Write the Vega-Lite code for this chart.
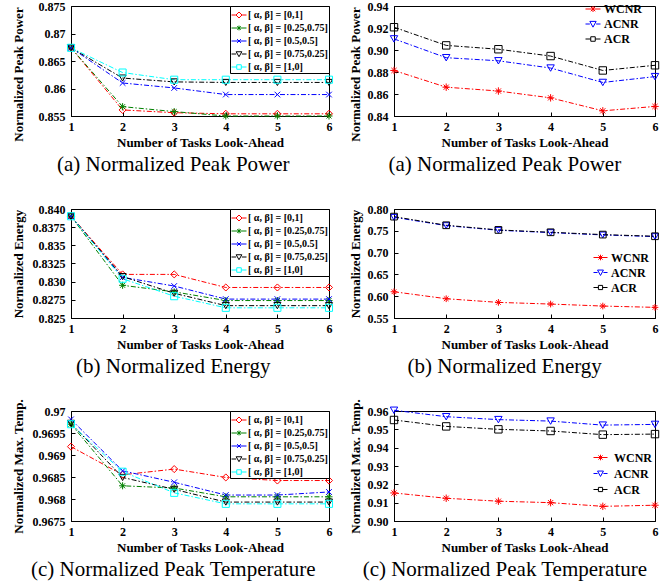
{
  "$schema": "https://vega.github.io/schema/vega-lite/v6.json",
  "padding": {"left": 11, "top": -1, "right": 0, "bottom": 0},
  "background": "white",
  "columns": 2,
  "bounds": "flush",
  "spacing": {"row": 93, "column": 65},
  "resolve": {"scale": {"color": "independent", "shape": "independent"}, "legend": {"color": "independent", "shape": "independent"}},
  "datasets": {
    "pa_l": [
      {"k": 1, "s": "[ α, β] = [0,1]", "v": 0.8674}, {"k": 2, "s": "[ α, β] = [0,1]", "v": 0.8561}, {"k": 3, "s": "[ α, β] = [0,1]", "v": 0.8556}, {"k": 4, "s": "[ α, β] = [0,1]", "v": 0.8554}, {"k": 5, "s": "[ α, β] = [0,1]", "v": 0.8554}, {"k": 6, "s": "[ α, β] = [0,1]", "v": 0.8554},
      {"k": 1, "s": "[ α, β] = [0.25,0.75]", "v": 0.8674}, {"k": 2, "s": "[ α, β] = [0.25,0.75]", "v": 0.8567}, {"k": 3, "s": "[ α, β] = [0.25,0.75]", "v": 0.8558}, {"k": 4, "s": "[ α, β] = [0.25,0.75]", "v": 0.8550}, {"k": 5, "s": "[ α, β] = [0.25,0.75]", "v": 0.8550}, {"k": 6, "s": "[ α, β] = [0.25,0.75]", "v": 0.8550},
      {"k": 1, "s": "[ α, β] = [0.5,0.5]", "v": 0.8674}, {"k": 2, "s": "[ α, β] = [0.5,0.5]", "v": 0.8610}, {"k": 3, "s": "[ α, β] = [0.5,0.5]", "v": 0.8601}, {"k": 4, "s": "[ α, β] = [0.5,0.5]", "v": 0.8589}, {"k": 5, "s": "[ α, β] = [0.5,0.5]", "v": 0.8589}, {"k": 6, "s": "[ α, β] = [0.5,0.5]", "v": 0.8589},
      {"k": 1, "s": "[ α, β] = [0.75,0.25]", "v": 0.8674}, {"k": 2, "s": "[ α, β] = [0.75,0.25]", "v": 0.8619}, {"k": 3, "s": "[ α, β] = [0.75,0.25]", "v": 0.8612}, {"k": 4, "s": "[ α, β] = [0.75,0.25]", "v": 0.8611}, {"k": 5, "s": "[ α, β] = [0.75,0.25]", "v": 0.8611}, {"k": 6, "s": "[ α, β] = [0.75,0.25]", "v": 0.8611},
      {"k": 1, "s": "[ α, β] = [1,0]", "v": 0.8674}, {"k": 2, "s": "[ α, β] = [1,0]", "v": 0.8629}, {"k": 3, "s": "[ α, β] = [1,0]", "v": 0.8616}, {"k": 4, "s": "[ α, β] = [1,0]", "v": 0.8616}, {"k": 5, "s": "[ α, β] = [1,0]", "v": 0.8616}, {"k": 6, "s": "[ α, β] = [1,0]", "v": 0.8616}
    ],
    "pa_r": [
      {"k": 1, "s": "WCNR", "v": 0.8814}, {"k": 2, "s": "WCNR", "v": 0.8662}, {"k": 3, "s": "WCNR", "v": 0.8627}, {"k": 4, "s": "WCNR", "v": 0.8565}, {"k": 5, "s": "WCNR", "v": 0.8447}, {"k": 6, "s": "WCNR", "v": 0.8487},
      {"k": 1, "s": "ACNR", "v": 0.9101}, {"k": 2, "s": "ACNR", "v": 0.8930}, {"k": 3, "s": "ACNR", "v": 0.8902}, {"k": 4, "s": "ACNR", "v": 0.8836}, {"k": 5, "s": "ACNR", "v": 0.8705}, {"k": 6, "s": "ACNR", "v": 0.8758},
      {"k": 1, "s": "ACR", "v": 0.9207}, {"k": 2, "s": "ACR", "v": 0.9042}, {"k": 3, "s": "ACR", "v": 0.9007}, {"k": 4, "s": "ACR", "v": 0.8945}, {"k": 5, "s": "ACR", "v": 0.8814}, {"k": 6, "s": "ACR", "v": 0.8861}
    ],
    "en_l": [
      {"k": 1, "s": "[ α, β] = [0,1]", "v": 0.8390}, {"k": 2, "s": "[ α, β] = [0,1]", "v": 0.8310}, {"k": 3, "s": "[ α, β] = [0,1]", "v": 0.8310}, {"k": 4, "s": "[ α, β] = [0,1]", "v": 0.8292}, {"k": 5, "s": "[ α, β] = [0,1]", "v": 0.8292}, {"k": 6, "s": "[ α, β] = [0,1]", "v": 0.8292},
      {"k": 1, "s": "[ α, β] = [0.25,0.75]", "v": 0.8390}, {"k": 2, "s": "[ α, β] = [0.25,0.75]", "v": 0.8295}, {"k": 3, "s": "[ α, β] = [0.25,0.75]", "v": 0.8286}, {"k": 4, "s": "[ α, β] = [0.25,0.75]", "v": 0.8274}, {"k": 5, "s": "[ α, β] = [0.25,0.75]", "v": 0.8274}, {"k": 6, "s": "[ α, β] = [0.25,0.75]", "v": 0.8274},
      {"k": 1, "s": "[ α, β] = [0.5,0.5]", "v": 0.8390}, {"k": 2, "s": "[ α, β] = [0.5,0.5]", "v": 0.8306}, {"k": 3, "s": "[ α, β] = [0.5,0.5]", "v": 0.8294}, {"k": 4, "s": "[ α, β] = [0.5,0.5]", "v": 0.8276}, {"k": 5, "s": "[ α, β] = [0.5,0.5]", "v": 0.8276}, {"k": 6, "s": "[ α, β] = [0.5,0.5]", "v": 0.8276},
      {"k": 1, "s": "[ α, β] = [0.75,0.25]", "v": 0.8390}, {"k": 2, "s": "[ α, β] = [0.75,0.25]", "v": 0.8307}, {"k": 3, "s": "[ α, β] = [0.75,0.25]", "v": 0.8284}, {"k": 4, "s": "[ α, β] = [0.75,0.25]", "v": 0.8267}, {"k": 5, "s": "[ α, β] = [0.75,0.25]", "v": 0.8267}, {"k": 6, "s": "[ α, β] = [0.75,0.25]", "v": 0.8267},
      {"k": 1, "s": "[ α, β] = [1,0]", "v": 0.8390}, {"k": 2, "s": "[ α, β] = [1,0]", "v": 0.8304}, {"k": 3, "s": "[ α, β] = [1,0]", "v": 0.8280}, {"k": 4, "s": "[ α, β] = [1,0]", "v": 0.8264}, {"k": 5, "s": "[ α, β] = [1,0]", "v": 0.8264}, {"k": 6, "s": "[ α, β] = [1,0]", "v": 0.8264}
    ],
    "en_r": [
      {"k": 1, "s": "WCNR", "v": 0.6102}, {"k": 2, "s": "WCNR", "v": 0.5942}, {"k": 3, "s": "WCNR", "v": 0.5858}, {"k": 4, "s": "WCNR", "v": 0.5820}, {"k": 5, "s": "WCNR", "v": 0.5774}, {"k": 6, "s": "WCNR", "v": 0.5744},
      {"k": 1, "s": "ACNR", "v": 0.7810}, {"k": 2, "s": "ACNR", "v": 0.7619}, {"k": 3, "s": "ACNR", "v": 0.7512}, {"k": 4, "s": "ACNR", "v": 0.7459}, {"k": 5, "s": "ACNR", "v": 0.7405}, {"k": 6, "s": "ACNR", "v": 0.7367},
      {"k": 1, "s": "ACR", "v": 0.7825}, {"k": 2, "s": "ACR", "v": 0.7627}, {"k": 3, "s": "ACR", "v": 0.7520}, {"k": 4, "s": "ACR", "v": 0.7466}, {"k": 5, "s": "ACR", "v": 0.7413}, {"k": 6, "s": "ACR", "v": 0.7375}
    ],
    "tp_l": [
      {"k": 1, "s": "[ α, β] = [0,1]", "v": 0.96919}, {"k": 2, "s": "[ α, β] = [0,1]", "v": 0.96855}, {"k": 3, "s": "[ α, β] = [0,1]", "v": 0.96868}, {"k": 4, "s": "[ α, β] = [0,1]", "v": 0.96849}, {"k": 5, "s": "[ α, β] = [0,1]", "v": 0.96842}, {"k": 6, "s": "[ α, β] = [0,1]", "v": 0.96842},
      {"k": 1, "s": "[ α, β] = [0.25,0.75]", "v": 0.96970}, {"k": 2, "s": "[ α, β] = [0.25,0.75]", "v": 0.96830}, {"k": 3, "s": "[ α, β] = [0.25,0.75]", "v": 0.96825}, {"k": 4, "s": "[ α, β] = [0.25,0.75]", "v": 0.96805}, {"k": 5, "s": "[ α, β] = [0.25,0.75]", "v": 0.96805}, {"k": 6, "s": "[ α, β] = [0.25,0.75]", "v": 0.96805},
      {"k": 1, "s": "[ α, β] = [0.5,0.5]", "v": 0.96981}, {"k": 2, "s": "[ α, β] = [0.5,0.5]", "v": 0.96864}, {"k": 3, "s": "[ α, β] = [0.5,0.5]", "v": 0.96838}, {"k": 4, "s": "[ α, β] = [0.5,0.5]", "v": 0.96809}, {"k": 5, "s": "[ α, β] = [0.5,0.5]", "v": 0.96809}, {"k": 6, "s": "[ α, β] = [0.5,0.5]", "v": 0.96816},
      {"k": 1, "s": "[ α, β] = [0.75,0.25]", "v": 0.96972}, {"k": 2, "s": "[ α, β] = [0.75,0.25]", "v": 0.96849}, {"k": 3, "s": "[ α, β] = [0.75,0.25]", "v": 0.96822}, {"k": 4, "s": "[ α, β] = [0.75,0.25]", "v": 0.96793}, {"k": 5, "s": "[ α, β] = [0.75,0.25]", "v": 0.96793}, {"k": 6, "s": "[ α, β] = [0.75,0.25]", "v": 0.96793},
      {"k": 1, "s": "[ α, β] = [1,0]", "v": 0.96970}, {"k": 2, "s": "[ α, β] = [1,0]", "v": 0.96862}, {"k": 3, "s": "[ α, β] = [1,0]", "v": 0.96814}, {"k": 4, "s": "[ α, β] = [1,0]", "v": 0.96789}, {"k": 5, "s": "[ α, β] = [1,0]", "v": 0.96789}, {"k": 6, "s": "[ α, β] = [1,0]", "v": 0.96789}
    ],
    "tp_r": [
      {"k": 1, "s": "WCNR", "v": 0.9153}, {"k": 2, "s": "WCNR", "v": 0.9124}, {"k": 3, "s": "WCNR", "v": 0.9108}, {"k": 4, "s": "WCNR", "v": 0.9100}, {"k": 5, "s": "WCNR", "v": 0.9080}, {"k": 6, "s": "WCNR", "v": 0.9086},
      {"k": 1, "s": "ACNR", "v": 0.9604}, {"k": 2, "s": "ACNR", "v": 0.9569}, {"k": 3, "s": "ACNR", "v": 0.9553}, {"k": 4, "s": "ACNR", "v": 0.9545}, {"k": 5, "s": "ACNR", "v": 0.9523}, {"k": 6, "s": "ACNR", "v": 0.9527},
      {"k": 1, "s": "ACR", "v": 0.9551}, {"k": 2, "s": "ACR", "v": 0.9516}, {"k": 3, "s": "ACR", "v": 0.9500}, {"k": 4, "s": "ACR", "v": 0.9491}, {"k": 5, "s": "ACR", "v": 0.9471}, {"k": 6, "s": "ACR", "v": 0.9474}
    ]
  },
  "concat": [
    {
      "width": 258, "height": 110,
      "title": "(a) Normalized Peak Power",
      "data": {"name": "pa_l"},
      "encoding": {
        "x": {"field": "k", "type": "quantitative", "scale": {"domain": [1, 6], "nice": false}, "axis": {"values": [1, 2, 3, 4, 5, 6], "format": "d", "title": "Number of Tasks Look-Ahead"}},
        "y": {"field": "v", "type": "quantitative", "scale": {"domain": [0.855, 0.875], "nice": false, "zero": false}, "axis": {"values": [0.855, 0.86, 0.865, 0.87, 0.875], "format": ".3~f", "title": "Normalized Peak Power", "titleY": 68}},
        "color": {"field": "s", "type": "nominal", "sort": null, "scale": {"domain": ["[ α, β] = [0,1]", "[ α, β] = [0.25,0.75]", "[ α, β] = [0.5,0.5]", "[ α, β] = [0.75,0.25]", "[ α, β] = [1,0]"], "range": ["#FF0000", "#008000", "#0000FF", "#000000", "#00FFFF"]},
          "legend": {"title": null, "orient": "top-right", "offset": 0, "strokeColor": "black", "fillColor": "white", "padding": 1, "labelFontSize": 10, "labelFontWeight": "bold", "labelFont": "Liberation Serif", "labelColor": "black", "labelOffset": 1, "symbolSize": 225, "symbolStrokeWidth": 1, "rowPadding": -1,
            "encode": {"symbols": {"update": {"fill": {"value": "transparent"}, "strokeDash": {"value": []}, "shape": {"signal": "['M-1,0H-0.42M0.42,0H1M0,-0.4L0.4,0L0,0.4L-0.4,0Z','M-1,0H1M0,-0.32V0.32M-0.23,-0.23L0.23,0.23M-0.23,0.23L0.23,-0.23','M-1,0H1M-0.25,-0.25L0.25,0.25M-0.25,0.25L0.25,-0.25','M-1,0H-0.38M0.38,0H1M-0.38,-0.3H0.38L0,0.36Z','M-1,0H-0.3M0.3,0H1M-0.3,-0.3H0.3V0.3H-0.3Z'][indexof(['[ α, β] = [0,1]','[ α, β] = [0.25,0.75]','[ α, β] = [0.5,0.5]','[ α, β] = [0.75,0.25]','[ α, β] = [1,0]'], datum.value)]"}}}}
          }
        }
      },
      "layer": [
        {"mark": {"type": "line", "strokeDash": [5, 2, 1.5, 2], "strokeWidth": 1}},
        {"mark": {"type": "point", "filled": false, "size": 50, "strokeWidth": 1, "opacity": 1},
         "encoding": {"shape": {"field": "s", "type": "nominal", "legend": null, "scale": {"range": ["diamond", "M-1,0H1M0,-1V1M-0.7,-0.7L0.7,0.7M-0.7,0.7L0.7,-0.7", "M-0.8,-0.8L0.8,0.8M-0.8,0.8L0.8,-0.8", "triangle-down", "square"]}}}}
      ]
    },
    {
      "width": 261, "height": 110,
      "title": "(a) Normalized Peak Power",
      "data": {"name": "pa_r"},
      "encoding": {
        "x": {"field": "k", "type": "quantitative", "scale": {"domain": [1, 6], "nice": false}, "axis": {"values": [1, 2, 3, 4, 5, 6], "format": "d", "title": "Number of Tasks Look-Ahead"}},
        "y": {"field": "v", "type": "quantitative", "scale": {"domain": [0.84, 0.94], "nice": false, "zero": false}, "axis": {"values": [0.84, 0.86, 0.88, 0.9, 0.92, 0.94], "format": ".2f", "title": "Normalized Peak Power", "titleX": -32, "titleY": 68}},
        "color": {"field": "s", "type": "nominal", "sort": null, "scale": {"domain": ["WCNR", "ACNR", "ACR"], "range": ["#FF0000", "#0000FF", "#000000"]},
          "legend": {"title": null, "orient": "none", "legendX": 191, "legendY": -5, "padding": 0, "labelFontSize": 12, "labelFontWeight": "bold", "labelFont": "Liberation Serif", "labelColor": "black", "labelOffset": 3, "symbolSize": 225, "symbolStrokeWidth": 1, "rowPadding": 1,
            "encode": {"symbols": {"update": {"fill": {"value": "transparent"}, "strokeDash": {"value": []}, "shape": {"signal": "['M-1,0H1M0,-0.4V0.4M-0.3,-0.3L0.3,0.3M-0.3,0.3L0.3,-0.3','M-1,0H-0.42M0.42,0H1M-0.42,-0.35H0.42L0,0.42Z','M-1,0H-0.3M0.3,0H1M-0.3,-0.3H0.3V0.3H-0.3Z'][indexof(['WCNR','ACNR','ACR'], datum.value)]"}}}}
          }
        }
      },
      "layer": [
        {"mark": {"type": "line", "strokeDash": [5, 2, 1.5, 2], "strokeWidth": 1}},
        {"mark": {"type": "point", "filled": false, "size": 55, "strokeWidth": 1, "opacity": 1},
         "encoding": {"shape": {"field": "s", "type": "nominal", "legend": null, "scale": {"range": ["triangle-down", "square", "M-1,0H1M0,-1V1M-0.7,-0.7L0.7,0.7M-0.7,0.7L0.7,-0.7"]}}}}
      ]
    },
    {
      "width": 258, "height": 109,
      "title": "(b) Normalized Energy",
      "data": {"name": "en_l"},
      "encoding": {
        "x": {"field": "k", "type": "quantitative", "scale": {"domain": [1, 6], "nice": false}, "axis": {"values": [1, 2, 3, 4, 5, 6], "format": "d", "title": "Number of Tasks Look-Ahead"}},
        "y": {"field": "v", "type": "quantitative", "scale": {"domain": [0.825, 0.84], "nice": false, "zero": false}, "axis": {"values": [0.825, 0.8275, 0.83, 0.8325, 0.835, 0.8375, 0.84], "labelExpr": "substring(format(datum.value, '.4f'), 5, 6) == '0' ? format(datum.value, '.3f') : format(datum.value, '.4f')", "title": "Normalized Energy"}},
        "color": {"field": "s", "type": "nominal", "sort": null, "scale": {"domain": ["[ α, β] = [0,1]", "[ α, β] = [0.25,0.75]", "[ α, β] = [0.5,0.5]", "[ α, β] = [0.75,0.25]", "[ α, β] = [1,0]"], "range": ["#FF0000", "#008000", "#0000FF", "#000000", "#00FFFF"]},
          "legend": {"title": null, "orient": "top-right", "offset": 0, "strokeColor": "black", "fillColor": "white", "padding": 1, "labelFontSize": 10, "labelFontWeight": "bold", "labelFont": "Liberation Serif", "labelColor": "black", "labelOffset": 1, "symbolSize": 225, "symbolStrokeWidth": 1, "rowPadding": -1,
            "encode": {"symbols": {"update": {"fill": {"value": "transparent"}, "strokeDash": {"value": []}, "shape": {"signal": "['M-1,0H-0.42M0.42,0H1M0,-0.4L0.4,0L0,0.4L-0.4,0Z','M-1,0H1M0,-0.32V0.32M-0.23,-0.23L0.23,0.23M-0.23,0.23L0.23,-0.23','M-1,0H1M-0.25,-0.25L0.25,0.25M-0.25,0.25L0.25,-0.25','M-1,0H-0.38M0.38,0H1M-0.38,-0.3H0.38L0,0.36Z','M-1,0H-0.3M0.3,0H1M-0.3,-0.3H0.3V0.3H-0.3Z'][indexof(['[ α, β] = [0,1]','[ α, β] = [0.25,0.75]','[ α, β] = [0.5,0.5]','[ α, β] = [0.75,0.25]','[ α, β] = [1,0]'], datum.value)]"}}}}
          }
        }
      },
      "layer": [
        {"mark": {"type": "line", "strokeDash": [5, 2, 1.5, 2], "strokeWidth": 1}},
        {"mark": {"type": "point", "filled": false, "size": 50, "strokeWidth": 1, "opacity": 1},
         "encoding": {"shape": {"field": "s", "type": "nominal", "legend": null, "scale": {"range": ["diamond", "M-1,0H1M0,-1V1M-0.7,-0.7L0.7,0.7M-0.7,0.7L0.7,-0.7", "M-0.8,-0.8L0.8,0.8M-0.8,0.8L0.8,-0.8", "triangle-down", "square"]}}}}
      ]
    },
    {
      "width": 261, "height": 109,
      "title": "(b) Normalized Energy",
      "data": {"name": "en_r"},
      "encoding": {
        "x": {"field": "k", "type": "quantitative", "scale": {"domain": [1, 6], "nice": false}, "axis": {"values": [1, 2, 3, 4, 5, 6], "format": "d", "title": "Number of Tasks Look-Ahead"}},
        "y": {"field": "v", "type": "quantitative", "scale": {"domain": [0.55, 0.8], "nice": false, "zero": false}, "axis": {"values": [0.55, 0.6, 0.65, 0.7, 0.75, 0.8], "format": ".2f", "title": "Normalized Energy", "titleX": -32}},
        "color": {"field": "s", "type": "nominal", "sort": null, "scale": {"domain": ["WCNR", "ACNR", "ACR"], "range": ["#FF0000", "#0000FF", "#000000"]},
          "legend": {"title": null, "orient": "none", "legendX": 199, "legendY": 41, "padding": 0, "labelFontSize": 12, "labelFontWeight": "bold", "labelFont": "Liberation Serif", "labelColor": "black", "labelOffset": 3, "symbolSize": 196, "symbolStrokeWidth": 1, "rowPadding": 1,
            "encode": {"symbols": {"update": {"fill": {"value": "transparent"}, "strokeDash": {"value": []}, "shape": {"signal": "['M-1,0H1M0,-0.4V0.4M-0.3,-0.3L0.3,0.3M-0.3,0.3L0.3,-0.3','M-1,0H-0.42M0.42,0H1M-0.42,-0.35H0.42L0,0.42Z','M-1,0H-0.3M0.3,0H1M-0.3,-0.3H0.3V0.3H-0.3Z'][indexof(['WCNR','ACNR','ACR'], datum.value)]"}}}}
          }
        }
      },
      "layer": [
        {"mark": {"type": "line", "strokeDash": [5, 2, 1.5, 2], "strokeWidth": 1}},
        {"mark": {"type": "point", "filled": false, "size": 45, "strokeWidth": 1, "opacity": 1},
         "encoding": {"shape": {"field": "s", "type": "nominal", "legend": null, "scale": {"range": ["triangle-down", "square", "M-1,0H1M0,-1V1M-0.7,-0.7L0.7,0.7M-0.7,0.7L0.7,-0.7"]}}}}
      ]
    },
    {
      "width": 258, "height": 110,
      "title": "(c) Normalized Peak Temperature",
      "data": {"name": "tp_l"},
      "encoding": {
        "x": {"field": "k", "type": "quantitative", "scale": {"domain": [1, 6], "nice": false}, "axis": {"values": [1, 2, 3, 4, 5, 6], "format": "d", "title": "Number of Tasks Look-Ahead"}},
        "y": {"field": "v", "type": "quantitative", "scale": {"domain": [0.9675, 0.97], "nice": false, "zero": false}, "axis": {"values": [0.9675, 0.968, 0.9685, 0.969, 0.9695, 0.97], "format": ".4~f", "title": "Normalized Max. Temp."}},
        "color": {"field": "s", "type": "nominal", "sort": null, "scale": {"domain": ["[ α, β] = [0,1]", "[ α, β] = [0.25,0.75]", "[ α, β] = [0.5,0.5]", "[ α, β] = [0.75,0.25]", "[ α, β] = [1,0]"], "range": ["#FF0000", "#008000", "#0000FF", "#000000", "#00FFFF"]},
          "legend": {"title": null, "orient": "top-right", "offset": 0, "strokeColor": "black", "fillColor": "white", "padding": 1, "labelFontSize": 10, "labelFontWeight": "bold", "labelFont": "Liberation Serif", "labelColor": "black", "labelOffset": 1, "symbolSize": 225, "symbolStrokeWidth": 1, "rowPadding": -1,
            "encode": {"symbols": {"update": {"fill": {"value": "transparent"}, "strokeDash": {"value": []}, "shape": {"signal": "['M-1,0H-0.42M0.42,0H1M0,-0.4L0.4,0L0,0.4L-0.4,0Z','M-1,0H1M0,-0.32V0.32M-0.23,-0.23L0.23,0.23M-0.23,0.23L0.23,-0.23','M-1,0H1M-0.25,-0.25L0.25,0.25M-0.25,0.25L0.25,-0.25','M-1,0H-0.38M0.38,0H1M-0.38,-0.3H0.38L0,0.36Z','M-1,0H-0.3M0.3,0H1M-0.3,-0.3H0.3V0.3H-0.3Z'][indexof(['[ α, β] = [0,1]','[ α, β] = [0.25,0.75]','[ α, β] = [0.5,0.5]','[ α, β] = [0.75,0.25]','[ α, β] = [1,0]'], datum.value)]"}}}}
          }
        }
      },
      "layer": [
        {"mark": {"type": "line", "strokeDash": [5, 2, 1.5, 2], "strokeWidth": 1}},
        {"mark": {"type": "point", "filled": false, "size": 50, "strokeWidth": 1, "opacity": 1},
         "encoding": {"shape": {"field": "s", "type": "nominal", "legend": null, "scale": {"range": ["diamond", "M-1,0H1M0,-1V1M-0.7,-0.7L0.7,0.7M-0.7,0.7L0.7,-0.7", "M-0.8,-0.8L0.8,0.8M-0.8,0.8L0.8,-0.8", "triangle-down", "square"]}}}}
      ]
    },
    {
      "width": 261, "height": 110,
      "title": "(c) Normalized Peak Temperature",
      "data": {"name": "tp_r"},
      "encoding": {
        "x": {"field": "k", "type": "quantitative", "scale": {"domain": [1, 6], "nice": false}, "axis": {"values": [1, 2, 3, 4, 5, 6], "format": "d", "title": "Number of Tasks Look-Ahead"}},
        "y": {"field": "v", "type": "quantitative", "scale": {"domain": [0.9, 0.96], "nice": false, "zero": false}, "axis": {"values": [0.9, 0.91, 0.92, 0.93, 0.94, 0.95, 0.96], "format": ".2f", "title": "Normalized Max. Temp.", "titleX": -32}},
        "color": {"field": "s", "type": "nominal", "sort": null, "scale": {"domain": ["WCNR", "ACNR", "ACR"], "range": ["#FF0000", "#0000FF", "#000000"]},
          "legend": {"title": null, "orient": "none", "legendX": 199, "legendY": 39, "padding": 0, "labelFontSize": 12, "labelFontWeight": "bold", "labelFont": "Liberation Serif", "labelColor": "black", "labelOffset": 6, "symbolSize": 196, "symbolStrokeWidth": 1, "rowPadding": 2,
            "encode": {"symbols": {"update": {"fill": {"value": "transparent"}, "strokeDash": {"value": []}, "shape": {"signal": "['M-1,0H1M0,-0.4V0.4M-0.3,-0.3L0.3,0.3M-0.3,0.3L0.3,-0.3','M-1,0H-0.42M0.42,0H1M-0.42,-0.35H0.42L0,0.42Z','M-1,0H-0.3M0.3,0H1M-0.3,-0.3H0.3V0.3H-0.3Z'][indexof(['WCNR','ACNR','ACR'], datum.value)]"}}}}
          }
        }
      },
      "layer": [
        {"mark": {"type": "line", "strokeDash": [5, 2, 1.5, 2], "strokeWidth": 1}},
        {"mark": {"type": "point", "filled": false, "size": 55, "strokeWidth": 1, "opacity": 1},
         "encoding": {"shape": {"field": "s", "type": "nominal", "legend": null, "scale": {"range": ["triangle-down", "square", "M-1,0H1M0,-1V1M-0.7,-0.7L0.7,0.7M-0.7,0.7L0.7,-0.7"]}}}}
      ]
    }
  ],
  "config": {
    "font": "Liberation Serif",
    "view": {"stroke": "black", "strokeWidth": 1},
    "axis": {"grid": false, "labelFont": "Liberation Serif", "labelFontWeight": "bold", "labelFontSize": 12, "labelColor": "black", "titleFont": "Liberation Serif", "titleFontWeight": "bold", "titleFontSize": 13, "titleColor": "black", "domainColor": "black", "tickColor": "black", "tickSize": -4, "labelFlush": false, "labelOverlap": false},
    "axisX": {"labelPadding": 9, "titleY": 30, "titleBaseline": "alphabetic"},
    "axisY": {"labelPadding": 10, "titleX": -46},
    "title": {"orient": "bottom", "anchor": "middle", "frame": "bounds", "font": "Liberation Serif", "fontSize": 21, "fontWeight": "normal", "color": "black", "offset": 5}
  }
}
